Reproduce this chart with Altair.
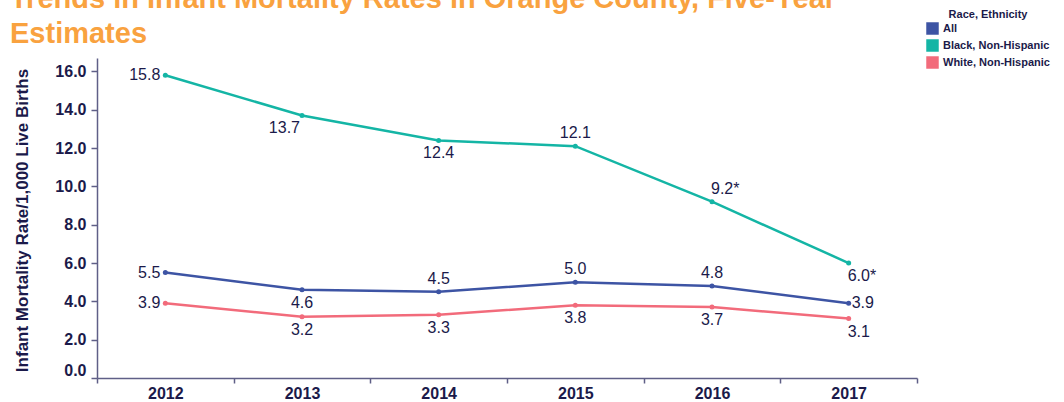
import altair as alt
import pandas as pd

# ---------------- data ----------------
YEARS = ["2012", "2013", "2014", "2015", "2016", "2017"]
SERIES = ["All", "Black, Non-Hispanic", "White, Non-Hispanic"]
ALL_VALUES = [5.5, 4.6, 4.5, 5.0, 4.8, 3.9]
BLACK_VALUES = [15.8, 13.7, 12.4, 12.1, 9.2, 6.0]
WHITE_VALUES = [3.9, 3.2, 3.3, 3.8, 3.7, 3.1]
ALL_NOTES = ["", "", "", "", "", ""]
BLACK_NOTES = ["", "", "", "", "*", "*"]
WHITE_NOTES = ["", "", "", "", "", ""]
Y_TICKS = [0, 2, 4, 6, 8, 10, 12, 14, 16]

TITLE_LINES = ["Trends in Infant Mortality Rates in Orange County, Five-Year", "Estimates"]
Y_TITLE = "Infant Mortality Rate/1,000 Live Births"
LEGEND_TITLE = "Race, Ethnicity"

# label placement (style), per series per year
LABEL_PLACEMENT = {
    "All": ["left", "below", "above", "above", "above", "right"],
    "Black, Non-Hispanic": ["left", "below-left", "below", "above", "above-right", "below-right"],
    "White, Non-Hispanic": ["left", "below", "below", "below", "below", "below-right"],
}

COLORS = ["#3D54A4", "#14B5A5", "#F26B7B"]
TEXT_COLOR = "#1B1A4A"
AXIS_COLOR = "#5F5F87"
TITLE_COLOR = "#F9A23F"
FONT = "Liberation Sans"

values = {"All": ALL_VALUES, "Black, Non-Hispanic": BLACK_VALUES, "White, Non-Hispanic": WHITE_VALUES}
notes = {"All": ALL_NOTES, "Black, Non-Hispanic": BLACK_NOTES, "White, Non-Hispanic": WHITE_NOTES}

rows = []
for s in SERIES:
    for i, y in enumerate(YEARS):
        v = values[s][i]
        rows.append({
            "year": y,
            "series": s,
            "value": v,
            "label": f"{v:.1f}{notes[s][i]}",
            "place": LABEL_PLACEMENT[s][i],
        })
df = pd.DataFrame(rows)

x_enc = alt.X(
    "year:O",
    bandPosition=0.5,
    scale=alt.Scale(type="band", domain=YEARS, paddingInner=0, paddingOuter=0),
    axis=alt.Axis(
        title=None, tickBand="extent", labelAngle=0, labelFont=FONT, labelFontSize=16,
        labelFontWeight="bold", labelColor=TEXT_COLOR, domainColor=AXIS_COLOR, domainWidth=1.5,
        tickColor=AXIS_COLOR, tickWidth=1.5, tickSize=5, labelPadding=2, grid=False,
    ),
)
y_enc = alt.Y(
    "value:Q",
    scale=alt.Scale(domain=[0, 16.7], nice=False, zero=True),
    axis=alt.Axis(
        title=Y_TITLE, values=Y_TICKS, format=".1f", labelFont=FONT, labelFontSize=16,
        labelFontWeight="bold", labelColor=TEXT_COLOR, labelFlush=True, domainColor=AXIS_COLOR,
        domainWidth=1.5, tickColor=AXIS_COLOR, tickWidth=1.5, tickSize=6, labelPadding=5,
        grid=False, titleFont=FONT, titleFontSize=17, titleFontWeight="bold",
        titleColor=TEXT_COLOR, titleAngle=-90, titleX=-75, titleY=162,
        titleAlign="center", titleBaseline="middle",
    ),
)

base = alt.Chart(df)

line_layers = [
    base.transform_filter(alt.datum.series == s)
    .mark_line(strokeWidth=2.5, color=c)
    .encode(x=x_enc, y=y_enc)
    for s, c in zip(SERIES, COLORS)
]

points = base.mark_circle(size=25, opacity=1).encode(
    x=x_enc, y=y_enc,
    color=alt.Color(
        "series:N", scale=alt.Scale(domain=SERIES, range=COLORS),
        legend=alt.Legend(
            title=LEGEND_TITLE, orient="none", legendX=829, legendY=-49,
            symbolType="square", symbolSize=156, symbolStrokeWidth=0, symbolOpacity=1,
            titleFont=FONT, titleFontSize=11, titleFontWeight="bold", titleColor=TEXT_COLOR,
            titleAnchor="middle", titlePadding=2,
            labelFont=FONT, labelFontSize=11, labelFontWeight="bold", labelColor=TEXT_COLOR,
            labelOffset=4, rowPadding=4,
        ),
    ),
)

placements = {
    "left": dict(align="right", baseline="middle", dx=-5, dy=0),
    "right": dict(align="left", baseline="middle", dx=3, dy=0),
    "above": dict(align="center", baseline="middle", dx=0, dy=-13),
    "below": dict(align="center", baseline="middle", dx=0, dy=13),
    "above-right": dict(align="left", baseline="middle", dx=-1, dy=-13),
    "below-right": dict(align="left", baseline="middle", dx=-1, dy=13),
    "below-left": dict(align="right", baseline="middle", dx=-2, dy=13),
}

text_layers = []
for name, opts in placements.items():
    text_layers.append(
        base.transform_filter(alt.datum.place == name)
        .mark_text(font=FONT, fontSize=16, color=TEXT_COLOR, **opts)
        .encode(x=x_enc, y=y_enc, text="label:N")
    )

title = alt.Chart(pd.DataFrame({"t": [0]})).mark_text(
    text=TITLE_LINES, font=FONT, fontSize=29, fontWeight="bold", color=TITLE_COLOR,
    align="left", baseline="alphabetic", lineHeight=35,
).encode(x=alt.value(-87), y=alt.value(-50))

chart = alt.layer(*line_layers, points, *text_layers, title).properties(
    width=820,
    height=320,
    padding={"left": 97, "top": 58, "right": 147, "bottom": 24},
    autosize=alt.AutoSizeParams(type="none"),
).configure_view(stroke=None)

chart.save("out.html", embed_options={"renderer": "svg", "actions": False})
